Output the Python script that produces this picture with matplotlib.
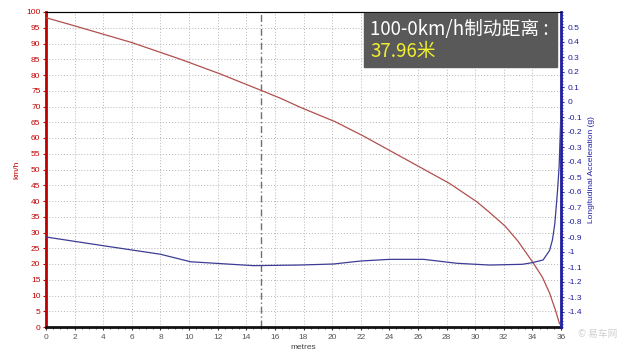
import matplotlib.pyplot as plt
from matplotlib.ticker import MultipleLocator

plt.rcParams["font.family"] = ["Liberation Sans", "DejaVu Sans"]

# speed trace (km/h) against distance (m)
speed_dist = [0.0, 2.0, 6.0, 9.4, 12.2, 15.1, 16.4, 17.8, 20.2, 22.2, 24.4,
              26.4, 28.2, 30.1, 31.0, 32.1, 33.0, 34.05, 34.7, 35.2, 35.6, 35.9]
speed_kmh = [98.2, 95.6, 90.3, 85.0, 80.3, 75.0, 72.6, 69.7, 65.2, 60.6, 55.1,
             50.1, 45.6, 39.8, 36.4, 32.0, 27.2, 20.4, 15.8, 10.8, 5.5, 1.0]

# longitudinal acceleration (g) against distance (m)
acc_dist = [0.0, 4.0, 8.0, 10.1, 14.5, 17.7, 20.1, 22.0, 24.0, 26.4, 28.7,
            31.0, 33.3, 34.0, 34.75, 35.2, 35.4, 35.57, 35.75, 35.87, 35.95, 36.0]
acc_g = [-0.90, -0.958, -1.015, -1.065, -1.091, -1.087, -1.08, -1.06, -1.049,
         -1.049, -1.075, -1.087, -1.082, -1.071, -1.053, -0.99, -0.92, -0.81,
         -0.60, -0.43, -0.20, -0.06]

marker_x = 15
title_line1 = "100-0km/h制动距离 :"
title_line2 = "37.96米"

fig = plt.figure(figsize=(6.3, 3.6), dpi=100)
ax = fig.add_axes([46 / 630, 33 / 360, 515 / 630, 315 / 360])
ax2 = ax.twinx()

ax.set_xlim(0, 36)
ax.set_ylim(0, 100)
ax2.set_ylim(-1.5, 0.6)

ax.grid(True, color="#b4b4b4", linestyle=(0, (1, 2)), linewidth=0.7)
ax.set_axisbelow(True)

ax.axvline(marker_x, color="#707070", linestyle=(0, (5, 2, 1, 2)), linewidth=1.0)

ax.plot(speed_dist, speed_kmh, color="#b0504c", linewidth=0.9, zorder=3)
ax2.plot(acc_dist, acc_g, color="#3c3c96", linewidth=0.9, zorder=3)

ax.xaxis.set_major_locator(MultipleLocator(2))
ax.xaxis.set_minor_locator(MultipleLocator(0.5))
ax.yaxis.set_major_locator(MultipleLocator(5))
ax.yaxis.set_minor_locator(MultipleLocator(1))
ax2.yaxis.set_minor_locator(MultipleLocator(0.02))

ticks_g = [round(-1.4 + 0.1 * i, 1) for i in range(20)]
ax2.set_yticks(ticks_g)
ax2.set_yticklabels(["0" if t == 0 else f"{t:g}" for t in ticks_g])

for a in (ax, ax2):
    for s in a.spines.values():
        s.set_linewidth(0.8)
ax.spines["left"].set_color("#c00000")
ax.spines["left"].set_linewidth(2.0)
ax.spines["bottom"].set_color("#111111")
ax.spines["bottom"].set_linewidth(2.0)
ax2.spines["right"].set_color("#2020a0")
ax2.spines["right"].set_linewidth(2.0)
ax2.spines["left"].set_visible(False)
ax2.spines["bottom"].set_visible(False)
ax.spines["top"].set_color("#333333")

ax.tick_params(axis="y", which="both", colors="#c00000", labelsize=6, length=2, pad=2)
ax.tick_params(axis="y", which="minor", length=1)
ax.tick_params(axis="x", which="both", colors="#333333", labelsize=6, length=2, pad=3)
ax.tick_params(axis="x", which="minor", length=1.5)
ax2.tick_params(axis="y", which="both", colors="#2020a0", labelsize=6, length=2, pad=3)
ax2.tick_params(axis="y", which="minor", length=1.5)
for lab in ax.get_xticklabels():
    lab.set_color("#555555")

ax.set_xlabel("metres", fontsize=6, color="#444444", labelpad=2)
ax.set_ylabel("km/h", fontsize=6, color="#c00000", labelpad=4)
ax2.set_ylabel("Longitudinal Acceleration (g)", fontsize=6, color="#2020a0")
ax2.yaxis.set_label_coords(1.052, 0.5)

# grey caption box in the top right
fig.patches.append(plt.Rectangle((364 / 630, 1 - 67 / 360), 193 / 630, 54 / 360,
                                 transform=fig.transFigure, color="#595959", zorder=5))
fig.text(370 / 630, 1 - 29 / 360, title_line1, color="white", fontsize=13.5,
         weight="light", family=["Noto Sans CJK SC", "DejaVu Sans"],
         va="center", ha="left", zorder=6)
fig.text(370 / 630, 1 - 52 / 360, title_line2, color="#f0f030", fontsize=13.5,
         weight="light", family=["Noto Sans CJK SC", "DejaVu Sans"],
         va="center", ha="left", zorder=6)

fig.text(598 / 630, 1 - 334 / 360, "© 易车网", color="#d0d0d0", fontsize=7,
         family=["Noto Sans CJK SC", "DejaVu Sans"], ha="center", va="center")

fig.savefig("out.png", dpi=100)
